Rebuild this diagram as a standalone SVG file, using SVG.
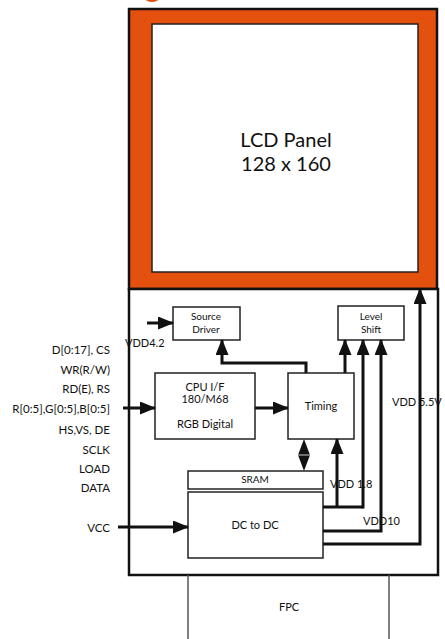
<svg xmlns="http://www.w3.org/2000/svg" width="445" height="639" viewBox="0 0 445 639">
<defs>
<marker id="ah" markerUnits="userSpaceOnUse" markerWidth="16" markerHeight="13" viewBox="0 0 16 13" refX="15" refY="6.5" orient="auto">
<path d="M0,0 L16,6.5 L0,13 z" fill="#111"/>
</marker>
</defs>
<style>
text{font-family:Lato,"Open Sans","Liberation Sans",sans-serif;fill:#111}
.box{fill:#fff;stroke:#222;stroke-width:1.5}
.w{fill:none;stroke:#111;stroke-width:3}
.a{fill:none;stroke:#111;stroke-width:3;marker-end:url(#ah)}
.lbl{font-size:11.5px;text-anchor:end}
.sm{font-size:10px;text-anchor:middle}
.md{font-size:11px;text-anchor:middle}
.v{font-size:11px}
</style>
<rect x="0" y="0" width="445" height="639" fill="#fff"/>
<ellipse cx="152" cy="-2" rx="7" ry="4" fill="#E4500E"/>
<g id="lcd">
<rect x="129" y="9" width="308" height="280" fill="#E4500E" stroke="#111" stroke-width="2.5"/>
<rect x="152" y="24" width="266" height="248" fill="#fff" stroke="#222" stroke-width="1.5"/>
<text x="286" y="147" font-size="20" text-anchor="middle">LCD Panel</text>
<text x="286" y="171" font-size="20" text-anchor="middle">128 x 160</text>
</g>
<g id="driver-ic">
<rect x="129" y="289" width="309" height="286" fill="#fff" stroke="#111" stroke-width="2.5"/>
</g>
<g id="fpc">
<line x1="188" y1="575" x2="188" y2="639" stroke="#555" stroke-width="1.5"/>
<line x1="389" y1="575" x2="389" y2="639" stroke="#555" stroke-width="1.5"/>
<text x="289" y="611" class="md">FPC</text>
</g>
<g id="source-driver">
<rect class="box" x="173" y="307" width="67" height="33"/>
<text x="206" y="320" class="sm">Source</text>
<text x="206" y="333" class="sm">Driver</text>
</g>
<g id="level-shift">
<rect class="box" x="338" y="306" width="66" height="34"/>
<text x="371" y="320" class="sm">Level</text>
<text x="371" y="333" class="sm">Shift</text>
</g>
<g id="cpu-if">
<rect class="box" x="155" y="373" width="100" height="66"/>
<text x="205" y="391" class="md">CPU I/F</text>
<text x="205" y="403" class="md">180/M68</text>
<text x="205" y="428" class="md">RGB Digital</text>
</g>
<g id="timing">
<rect class="box" x="288" y="373" width="66" height="66"/>
<text x="321" y="410" class="md">Timing</text>
</g>
<g id="sram">
<rect class="box" x="188" y="471" width="135" height="18"/>
<text x="255" y="483" class="sm">SRAM</text>
</g>
<g id="dcdc">
<rect class="box" x="188" y="492" width="135" height="66"/>
<text x="255" y="529" class="md">DC to DC</text>
</g>
<g id="labels">
<text x="110" y="354" class="lbl">D[0:17], CS</text>
<text x="110" y="374" class="lbl">WR(R/W)</text>
<text x="110" y="393" class="lbl">RD(E), RS</text>
<text x="110" y="413" class="lbl">R[0:5],G[0:5],B[0:5]</text>
<text x="110" y="434" class="lbl">HS,VS, DE</text>
<text x="110" y="454" class="lbl">SCLK</text>
<text x="110" y="473" class="lbl">LOAD</text>
<text x="110" y="492" class="lbl">DATA</text>
<text x="110" y="532" class="lbl">VCC</text>
<text x="125" y="347" class="v">VDD4.2</text>
<text x="392" y="406" class="v">VDD 5.5V</text>
<text x="330" y="488" class="v">VDD 1.8</text>
<text x="363" y="525" class="v">VDD10</text>
</g>
<g id="connectors">
<line class="a" x1="147" y1="323" x2="173" y2="323"/>
<line class="a" x1="123" y1="408" x2="155" y2="408"/>
<line class="a" x1="255" y1="408" x2="288" y2="408"/>
<line class="a" x1="118" y1="527" x2="188" y2="527"/>
<polyline class="a" points="306,373 306,363 222,363 222,340"/>
<line class="a" x1="345" y1="373" x2="345" y2="340"/>
<polyline class="w" points="323,507 363,507"/>
<line class="a" x1="337" y1="507" x2="337" y2="439"/>
<line class="a" x1="363" y1="508.5" x2="363" y2="340"/>
<polyline class="a" points="323,531 381,531 381,340"/>
<polyline class="a" points="323,544 420,544 420,289"/>
<path d="M304,439 L310,455 L304,471 L298,455 z" fill="#111"/>
<line x1="298" y1="455" x2="310" y2="455" stroke="#ccc" stroke-width="1"/>
</g>
</svg>
